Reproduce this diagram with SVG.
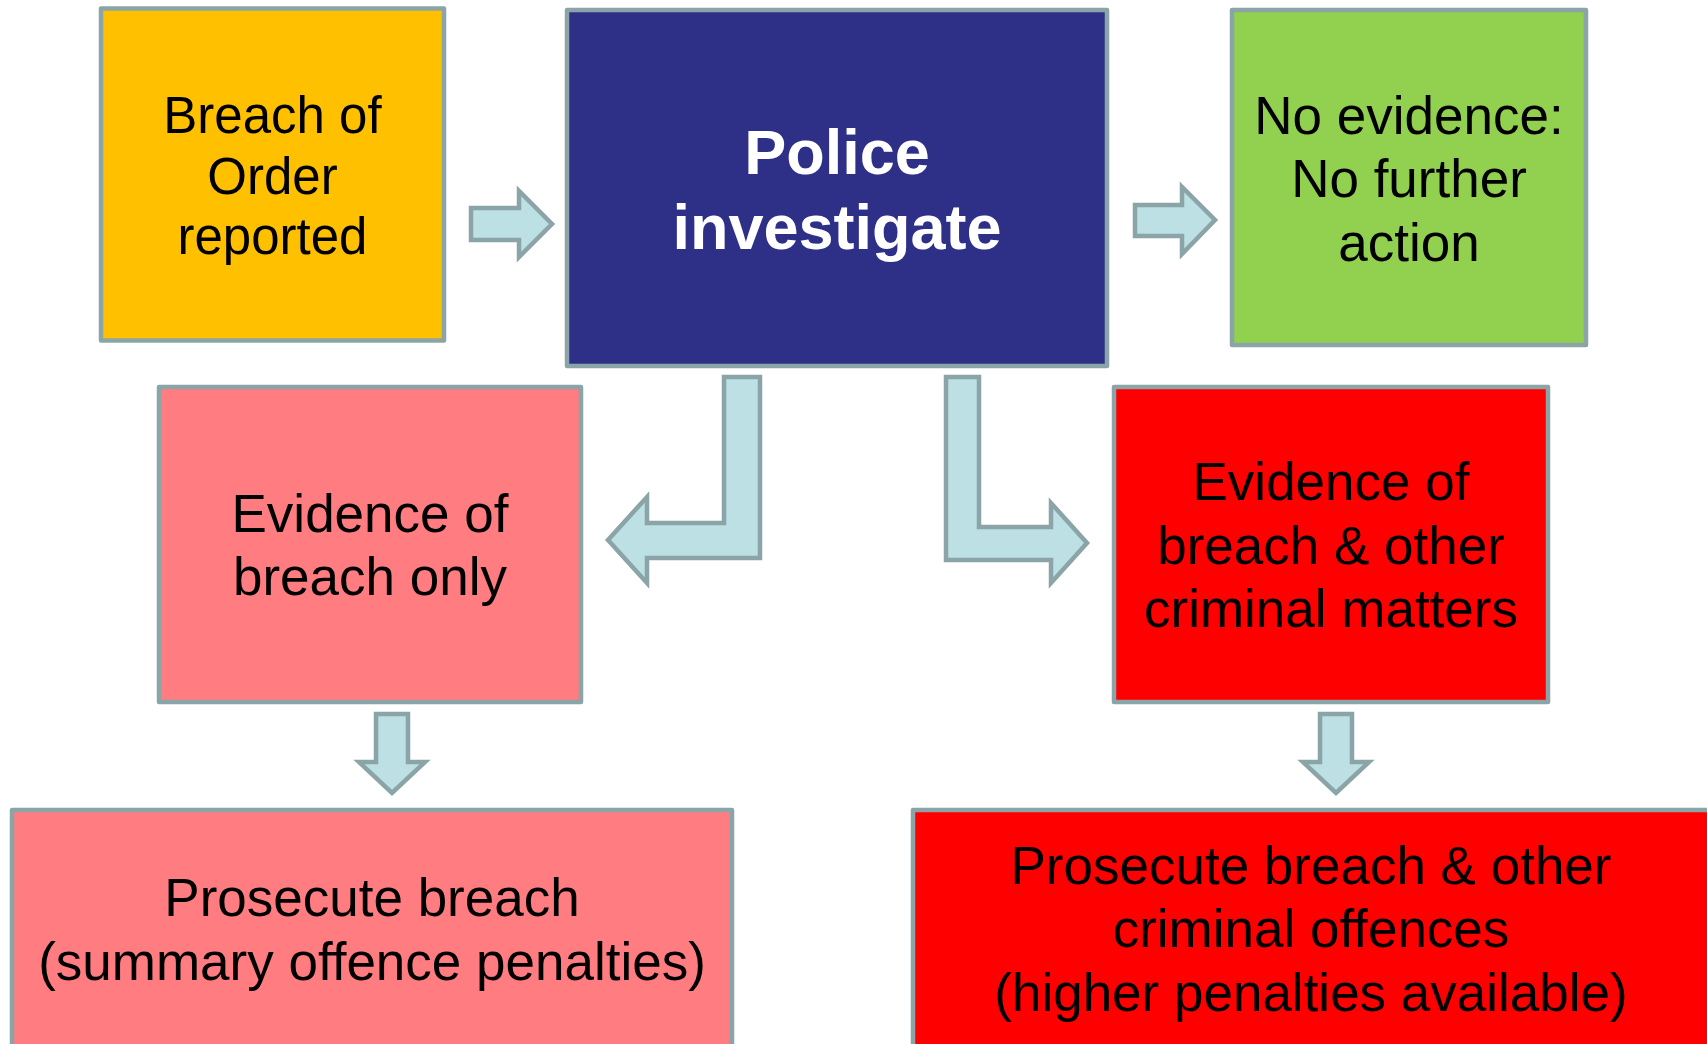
<svg xmlns="http://www.w3.org/2000/svg" width="1707" height="1044" viewBox="0 0 1707 1044">
<style>
.box{stroke:#8BA4A7;stroke-width:4.5;stroke-linejoin:round}
.arr{fill:#BCE0E3;stroke:#8BA4A7;stroke-width:4.5;stroke-linejoin:miter}
.t{font-family:"Liberation Sans",Arial,sans-serif;font-size:53px;fill:#000;text-anchor:middle}
.tb{font-family:"Liberation Sans",Arial,sans-serif;font-size:63px;font-weight:bold;fill:#fff;text-anchor:middle}
</style>
<rect width="1707" height="1044" fill="#fff"/>
<g id="connectors">
<polygon class="arr" points="471,208 519,208 519,191 552,224 519,257 519,240 471,240"/>
<polygon class="arr" points="1135,205 1182,205 1182,187 1215,220 1182,254 1182,236 1135,236"/>
<polygon class="arr" points="724,377 760,377 760,558 647,558 647,583 608,540 647,497 647,523 724,523"/>
<polygon class="arr" points="946,377 979,377 979,527 1051,527 1051,503 1087,543 1051,583 1051,560 946,560"/>
<polygon class="arr" points="376,714 408,714 408,762 425,762 392,793 359,762 376,762"/>
<polygon class="arr" points="1320,714 1352,714 1352,762 1369,762 1336,793 1303,762 1320,762"/>
</g>
<g id="breach-reported">
<rect class="box" x="101" y="8.5" width="343" height="332" fill="#FFC000"/>
<text class="t" style="font-size:51px"><tspan x="272.5" y="133">Breach of</tspan><tspan x="272.5" y="194">Order</tspan><tspan x="272.5" y="254">reported</tspan></text>
</g>
<g id="police-investigate">
<rect class="box" x="567" y="10" width="540" height="356" fill="#2E3088"/>
<text class="tb"><tspan x="837" y="174">Police</tspan><tspan x="837" y="249">investigate</tspan></text>
</g>
<g id="no-evidence">
<rect class="box" x="1232" y="10" width="354" height="335" fill="#92D050"/>
<text class="t"><tspan x="1409" y="134">No evidence:</tspan><tspan x="1409" y="197">No further</tspan><tspan x="1409" y="261">action</tspan></text>
</g>
<g id="evidence-breach-only">
<rect class="box" x="159" y="387" width="422" height="315" fill="#FF7C80"/>
<text class="t"><tspan x="370" y="532">Evidence of</tspan><tspan x="370" y="595">breach only</tspan></text>
</g>
<g id="evidence-breach-other">
<rect class="box" x="1114" y="387" width="434" height="315" fill="#FF0000"/>
<text class="t"><tspan x="1331" y="500">Evidence of</tspan><tspan x="1331" y="564">breach &amp; other</tspan><tspan x="1331" y="627">criminal matters</tspan></text>
</g>
<g id="prosecute-breach">
<rect class="box" x="12" y="810" width="720" height="260" fill="#FF7C80"/>
<text class="t"><tspan x="372" y="916">Prosecute breach</tspan><tspan x="372" y="980">(summary offence penalties)</tspan></text>
</g>
<g id="prosecute-breach-other">
<rect class="box" x="913" y="810" width="800" height="260" fill="#FF0000"/>
<text class="t"><tspan x="1311" y="884">Prosecute breach &amp; other</tspan><tspan x="1311" y="947">criminal offences</tspan><tspan x="1311" y="1011">(higher penalties available)</tspan></text>
</g>
</svg>
